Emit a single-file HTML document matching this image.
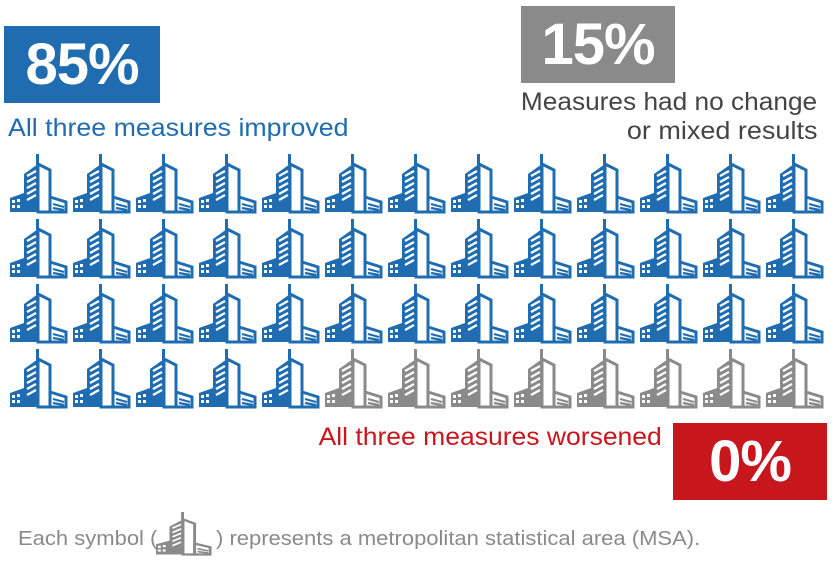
<!DOCTYPE html>
<html><head><meta charset="utf-8"><style>
body{margin:0;width:835px;height:564px;background:#fff;position:relative;overflow:hidden;font-family:"Liberation Sans",sans-serif}
.box{position:absolute;color:#fff;font-weight:bold;font-size:58px;text-align:center;line-height:77px;letter-spacing:-1px}
.t{position:absolute;white-space:nowrap;font-size:25px;transform-origin:left top}
.r{transform-origin:right top}
</style></head><body>
<svg width="0" height="0" style="position:absolute">
<defs>
<symbol id="b" viewBox="0 0 60 60">
<rect x="27" y="0" width="3" height="11" fill="currentColor"/>
<polygon points="15,20 29,10 29,58 15,58" fill="currentColor"/>
<polygon points="29,10 41,16 41,58 29,58" fill="#fff" stroke="currentColor" stroke-width="3"/>
<g stroke="#fff" stroke-width="2.2">
<line x1="18" y1="22" x2="27" y2="17"/><line x1="18" y1="28" x2="27" y2="23"/><line x1="18" y1="34" x2="27" y2="29"/><line x1="18" y1="40" x2="27" y2="35"/><line x1="18" y1="46" x2="27" y2="41"/>
</g>
<polygon points="1,44 15,39 15,58 1,58" fill="currentColor"/>
<g fill="#fff"><rect x="3" y="46" width="3" height="3"/><rect x="8" y="45" width="3" height="3"/><rect x="3" y="51" width="3" height="3"/><rect x="8" y="51" width="3" height="3"/></g>
<polygon points="41,43 57,48 57,58 41,58" fill="#fff" stroke="currentColor" stroke-width="3"/>
<g stroke="currentColor" stroke-width="2.2"><line x1="44" y1="50" x2="55" y2="53"/><line x1="44" y1="54" x2="55" y2="56"/></g>
</symbol>
</defs></svg>
<div class="box" style="left:4px;top:26px;width:156px;height:77px;background:#1f6db0">85%</div>
<div class="box" style="left:521px;top:6px;width:154px;height:77px;background:#8a8a8a">15%</div>
<div class="box" style="left:673px;top:423px;width:154px;height:77px;background:#c8161d">0%</div>
<div class="t" style="left:8px;top:114px;color:#1f6db0;transform:scaleX(1.07)">All three measures improved</div>
<div class="t r" style="right:18px;top:88px;color:#444;transform:scaleX(1.05)">Measures had no change</div>
<div class="t r" style="right:18px;top:117px;color:#444;transform:scaleX(1.08)">or mixed results</div>
<div class="t r" style="right:173px;top:423px;color:#c8161d;transform:scaleX(1.06)">All three measures worsened</div>
<div class="t" style="left:18px;top:528px;color:#8a8a8a;font-size:20px;transform:scaleX(1.1)">Each symbol (</div>
<div class="t" style="left:216px;top:528px;color:#8a8a8a;font-size:20px;transform:scaleX(1.1)">) represents a metropolitan statistical area (MSA).</div>
<svg style="position:absolute;left:155px;top:512px" width="58" height="44" viewBox="0 0 60 60" preserveAspectRatio="none" color="#8a8a8a"><use href="#b"/></svg>
<div id="g"></div>
<script>
var h='';var n=0;
for(var r=0;r<4;r++)for(var c=0;c<13;c++){var col=n<44?'#1f6db0':'#8a8a8a';n++;
h+='<svg style="position:absolute;left:'+(9+c*63)+'px;top:'+(154+r*65)+'px" width="60" height="60" viewBox="0 0 60 60" color="'+col+'"><use href="#b"/></svg>';}
document.getElementById('g').innerHTML=h;
</script>
</body></html>
